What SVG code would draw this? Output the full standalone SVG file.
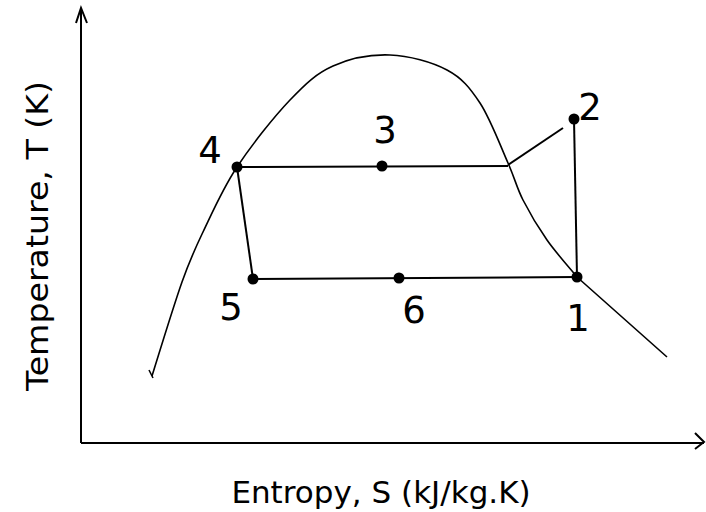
<svg xmlns="http://www.w3.org/2000/svg" width="706" height="512" viewBox="0 0 706 512">
<style>
.ax{stroke:#000;stroke-width:2;fill:none}
.ln{stroke:#000;stroke-width:2;fill:none}
.cv{stroke:#000;stroke-width:1.6;fill:none;stroke-linejoin:round}
.dot{fill:#000}
.lab{font-family:"DejaVu Sans",Verdana,sans-serif;font-size:37px;fill:#000;text-anchor:middle}
.axl{font-family:"DejaVu Sans",Verdana,sans-serif;font-size:31px;fill:#000;text-anchor:middle}
</style>
<rect width="706" height="512" fill="#fff"/>
<g id="axes">
<path class="ax" d="M81,443 V8 M76,23 L81,8 L87,23"/>
<path class="ax" d="M81,443 H704 M695,433 L704,442 L695,449"/>
<text class="axl" transform="translate(48,236) rotate(-90)" textLength="310" lengthAdjust="spacingAndGlyphs">Temperature, T (K)</text>
<text class="axl" x="381" y="503">Entropy, S (kJ/kg.K)</text>
</g>
<g id="saturation-curve">
<path class="cv" d="M152,376 C157,360 173.5,306 182,282 C190.5,258 193.8,251.2 203,232 C212.2,212.8 222.5,189 237,167 C251.5,145 274,116.8 290,100 C306,83.2 316.3,73.5 333,66 C349.7,58.5 371,54.3 390,55 C409,55.7 432,62 447,70 C462,78 469.8,87.5 480,103 C490.2,118.5 500.8,146.8 508,163 C515.2,179.2 516.5,187.2 523,200 C529.5,212.8 538,227.2 547,240 C556,252.8 572,270.8 577,277 L667,357"/>
<path class="cv" d="M149,370 L153,378"/>
</g>
<g id="connectors">
<path class="ln" d="M237,167 L508,166"/>
<path class="ln" d="M508,165 L563,128"/>
<path class="ln" d="M574,119 L577,277"/>
<path class="ln" d="M577,277 L253,279"/>
<path class="ln" d="M253,279 L237,167"/>
</g>
<g id="point1"><circle class="dot" cx="577" cy="277" r="5.5"/><text class="lab" x="578" y="331">1</text></g>
<g id="point2"><circle class="dot" cx="574" cy="119" r="5.5"/><text class="lab" x="590" y="120">2</text></g>
<g id="point3"><circle class="dot" cx="382" cy="166" r="5.5"/><text class="lab" x="385" y="143">3</text></g>
<g id="point4"><circle class="dot" cx="237" cy="167" r="5.5"/><text class="lab" x="210" y="163">4</text></g>
<g id="point5"><circle class="dot" cx="253" cy="279" r="5.5"/><text class="lab" x="231" y="320">5</text></g>
<g id="point6"><circle class="dot" cx="399" cy="278" r="5.5"/><text class="lab" x="414" y="323">6</text></g>
</svg>
